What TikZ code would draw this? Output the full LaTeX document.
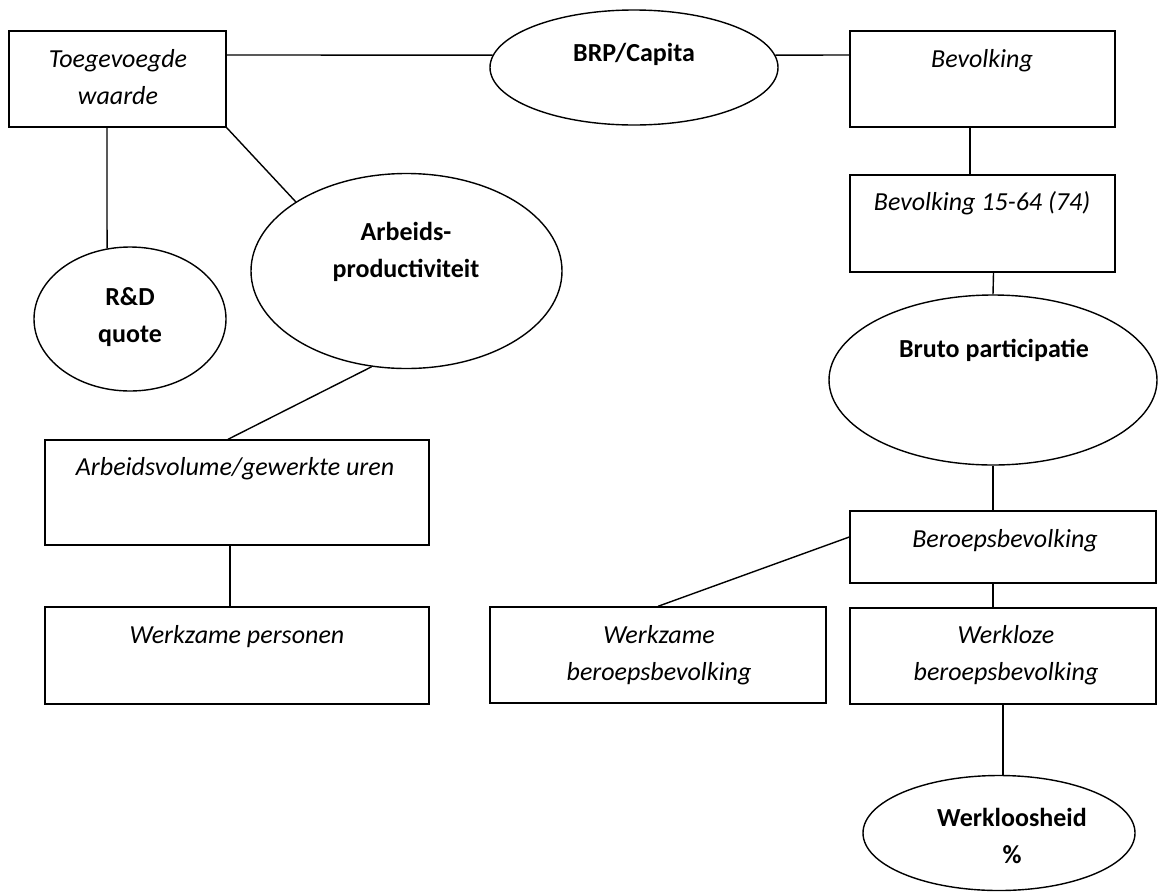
\documentclass[tikz,border=0pt]{standalone}
\usepackage{fontspec}
\setmainfont{Carlito}
\usepackage{tikz}
\usetikzlibrary{shapes.geometric,calc}

\tikzset{
  box/.style={draw, line width=1.4pt, rectangle, inner sep=0pt},
  oval/.style={draw, line width=1.4pt, ellipse, inner sep=0pt},
  itxt/.style={anchor=base, align=center, inner sep=0pt, font=\fontsize{26}{37}\selectfont\itshape},
  btxt/.style={anchor=base, align=center, inner sep=0pt, font=\fontsize{26}{37}\selectfont\bfseries},
  link/.style={line width=1.4pt},
}

\begin{document}
\begin{tikzpicture}[x=1pt,y=-1pt]
    \useasboundingbox (0,0) rectangle (1158,892);

    % Top row
    \node[box, minimum width=217pt, minimum height=96pt] (tw) at (117.5,79) {};
    \node[itxt] (twtext) at (118,104) {Toegevoegde\\waarde};
    \node[oval, minimum width=288pt, minimum height=115pt] (brp) at (634,67.5) {};
    \node[btxt] (brptext) at (634,61) {BRP/Capita};
    \node[box, minimum width=265pt, minimum height=96pt] (bev) at (982.5,79) {};
    \node[itxt] (bevtext) at (982,67) {Bevolking};

    % Productivity side
    \node[oval, minimum width=192pt, minimum height=144pt] (rd) at (130,319) {};
    \node[btxt] (rdtext) at (130,342) {R\&D\\quote};
    \node[oval, minimum width=311pt, minimum height=195pt] (ap) at (406.5,271) {};
    \node[btxt] (aptext) at (406,277) {Arbeids-\\productiviteit};
    \node[box, minimum width=384pt, minimum height=105pt] (av) at (237,492.5) {};
    \node[itxt] (avtext) at (235,475) {Arbeidsvolume/gewerkte uren};
    \node[box, minimum width=384pt, minimum height=97pt] (wp) at (237,655.5) {};
    \node[itxt] (wptext) at (237,643) {Werkzame personen};

    % Population side
    \node[box, minimum width=265pt, minimum height=97pt] (bvk) at (982.5,223.5) {};
    \node[itxt] (bvktext) at (982,210) {Bevolking 15-64 (74)};
    \node[oval, minimum width=328pt, minimum height=170pt] (bp) at (993,380) {};
    \node[btxt] (bptext) at (994,357) {Bruto participatie};
    \node[box, minimum width=306pt, minimum height=72pt] (bb) at (1003,547) {};
    \node[itxt] (bbtext) at (1005,547) {Beroepsbevolking};
    \node[box, minimum width=336pt, minimum height=96pt] (wb) at (658,655) {};
    \node[itxt] (wbtext) at (659,680) {Werkzame\\beroepsbevolking};
    \node[box, minimum width=306pt, minimum height=96pt] (wl) at (1003,656) {};
    \node[itxt] (wltext) at (1006,680) {Werkloze\\beroepsbevolking};
    \node[oval, minimum width=272pt, minimum height=115pt] (wh) at (999,833) {};
    \node[btxt] (whtext) at (1012,863) {Werkloosheid\\\%};

    % Connectors
    \draw[link] ([yshift=24pt]tw.east) -- (brp.175);
    \draw[link] (brp.5) -- ([yshift=24pt]bev.west);
    \draw[link] ([xshift=-10.5pt]tw.south) -- (rd.108);
    \draw[link] (tw.south east) -- (ap.148);
    \draw[link] (ap.250) -- ([xshift=-9pt]av.north);
    \draw[link] ([xshift=-7pt]av.south) -- ([xshift=-7pt]wp.north);
    \draw[link] ([xshift=-12.5pt]bev.south) -- ([xshift=-12.5pt]bvk.north);
    \draw[link] ([xshift=11pt]bvk.south) -- (bp.north);
    \draw[link] (bp.south) -- (bp.south |- bb.north);
    \draw[link] ([yshift=10pt]bb.west) -- (wb.north);
    \draw[link] ([xshift=-10pt]bb.south) -- ([xshift=-10pt]wl.north);
    \draw[link] (wl.south) -- (wl.south |- wh.north);
\end{tikzpicture}
\end{document}
